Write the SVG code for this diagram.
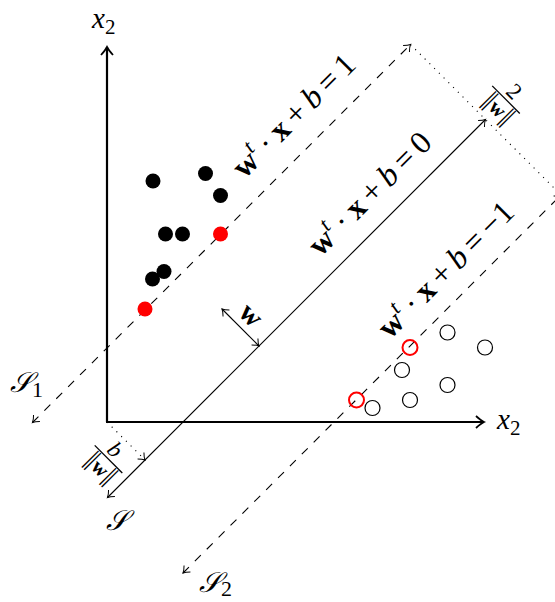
<svg xmlns="http://www.w3.org/2000/svg" width="555" height="602" viewBox="0 0 555 602">
  <style>
    .t { font-family: "Liberation Serif", "DejaVu Serif", serif; fill: #000; }
    .bf { font-weight: bold; }
    .it { font-style: italic; }
    .scr { font-family: "DejaVu Serif", "DejaVu Sans", "Noto Sans", serif; fill: #000; }
    .axis { stroke: #000; stroke-width: 2.2; fill: none; }
    .thin { stroke: #000; stroke-width: 1.1; fill: none; }
    .dash { stroke-dasharray: 8.4 8.4; }
    .dot { stroke-dasharray: 1.1 5.6; }
    .blk { fill: #000; }
    .redf { fill: #ff0000; }
    .open { fill: none; stroke: #000; stroke-width: 1.2; }
    .openr { fill: none; stroke: #ff0000; stroke-width: 2; }
  </style>
  <defs>
    <marker id="tip" markerUnits="userSpaceOnUse" markerWidth="12" markerHeight="12" refX="0" refY="0" orient="auto-start-reverse" overflow="visible">
      <path d="M -6 -4.5 Q -2.5 -1 0 0 Q -2.5 1 -6 4.5" fill="none" stroke="#000" stroke-width="1" stroke-dasharray="none"/>
    </marker>
    <marker id="bigtip" markerUnits="userSpaceOnUse" markerWidth="16" markerHeight="16" refX="0" refY="0" orient="auto" overflow="visible">
      <path d="M -8 -6 Q -3 -1.5 0 0 Q -3 1.5 -8 6" fill="none" stroke="#000" stroke-width="1.8"/>
    </marker>
  </defs>

  <g id="axes">
    <line class="axis" x1="107" y1="422" x2="107" y2="47" marker-end="url(#bigtip)"/>
    <line class="axis" x1="106" y1="422" x2="484" y2="422" marker-end="url(#bigtip)"/>
    <text class="t it" x="92" y="28" font-size="29">x<tspan font-style="normal" font-size="21" dy="6">2</tspan></text>
    <text class="t it" x="497" y="429" font-size="29">x<tspan font-style="normal" font-size="21" dy="6">2</tspan></text>
  </g>

  <g id="connectors">
    <line id="S1" class="thin dash" x1="32.5" y1="422.5" x2="410.5" y2="44.5" marker-start="url(#tip)" marker-end="url(#tip)"/>
    <line id="S" class="thin" x1="107.5" y1="497.5" x2="485.5" y2="119.5" marker-start="url(#tip)" marker-end="url(#tip)"/>
    <line id="S2" class="thin dash" x1="183" y1="573" x2="561" y2="195" marker-start="url(#tip)" marker-end="url(#tip)"/>
    <line id="margin" class="thin dot" x1="410.5" y1="44.5" x2="561" y2="195"/>
    <line id="offset" class="thin dot" x1="107" y1="422" x2="145" y2="460" marker-end="url(#tip)"/>
    <line id="normal" class="thin" x1="259" y1="346" x2="222" y2="309" marker-start="url(#tip)" marker-end="url(#tip)"/>
  </g>

  <g id="labels">
    <text class="t" transform="translate(301,123) rotate(-45)" text-anchor="middle" font-size="32"><tspan class="bf">w</tspan><tspan class="it" font-size="22" dy="-13">t</tspan><tspan dy="13" dx="6">·</tspan><tspan class="bf" dx="6">x</tspan><tspan dx="6">+</tspan><tspan class="it" dx="6">b</tspan><tspan dx="6">=</tspan><tspan dx="6">1</tspan></text>
    <text class="t" transform="translate(377,201) rotate(-45)" text-anchor="middle" font-size="32"><tspan class="bf">w</tspan><tspan class="it" font-size="22" dy="-13">t</tspan><tspan dy="13" dx="6">·</tspan><tspan class="bf" dx="6">x</tspan><tspan dx="6">+</tspan><tspan class="it" dx="6">b</tspan><tspan dx="6">=</tspan><tspan dx="6">0</tspan></text>
    <text class="t" transform="translate(453,277) rotate(-45)" text-anchor="middle" font-size="32"><tspan class="bf">w</tspan><tspan class="it" font-size="22" dy="-13">t</tspan><tspan dy="13" dx="6">·</tspan><tspan class="bf" dx="6">x</tspan><tspan dx="6">+</tspan><tspan class="it" dx="6">b</tspan><tspan dx="6">=</tspan><tspan dx="6">−1</tspan></text>

    <g id="frac-margin" transform="translate(506,99.7) rotate(45)">
      <line x1="-19.5" y1="0" x2="19.5" y2="0" stroke="#000" stroke-width="1.3"/>
      <text class="t" x="0" y="-4" text-anchor="middle" font-size="23">2</text>
      <text class="t" x="0" y="19" text-anchor="middle" font-size="26" letter-spacing="-2">||<tspan class="bf" font-size="21" letter-spacing="0" dx="2">w</tspan><tspan dx="1">||</tspan></text>
    </g>
    <g id="frac-offset" transform="translate(108.5,459.2) rotate(45)">
      <line x1="-19.5" y1="0" x2="19.5" y2="0" stroke="#000" stroke-width="1.3"/>
      <text class="t it" x="-2" y="-4" text-anchor="middle" font-size="23">b</text>
      <text class="t" x="0" y="19" text-anchor="middle" font-size="26" letter-spacing="-2">||<tspan class="bf" font-size="21" letter-spacing="0" dx="2">w</tspan><tspan dx="1">||</tspan></text>
    </g>
    <text class="t bf" transform="translate(249.5,316.5) rotate(45)" text-anchor="middle" dy="7" font-size="29">w</text>

    <text class="scr it" x="10" y="392" font-size="28">𝒮<tspan class="t" font-style="normal" font-size="22" dy="5">1</tspan></text>
    <text class="scr it" x="106" y="530" font-size="28">𝒮</text>
    <text class="scr it" x="199" y="592" font-size="28">𝒮<tspan class="t" font-style="normal" font-size="22" dy="4">2</tspan></text>
  </g>

  <g id="class-positive">
    <circle id="p1" class="blk" cx="153" cy="181" r="7.5"/>
    <circle id="p2" class="blk" cx="205.5" cy="173.5" r="7.5"/>
    <circle id="p3" class="blk" cx="220.5" cy="195.5" r="7.5"/>
    <circle id="p4" class="blk" cx="165.5" cy="234" r="7.5"/>
    <circle id="p5" class="blk" cx="182.5" cy="234" r="7.5"/>
    <circle id="p6" class="redf" cx="220.5" cy="234" r="7.5"/>
    <circle id="p7" class="blk" cx="164" cy="271.5" r="7.5"/>
    <circle id="p8" class="blk" cx="152.5" cy="279" r="7.5"/>
    <circle id="p9" class="redf" cx="145" cy="309" r="7.5"/>
  </g>

  <g id="class-negative">
    <circle id="n1" class="open" cx="447.5" cy="332.5" r="7.5"/>
    <circle id="n2" class="openr" cx="410" cy="347.5" r="7.5"/>
    <circle id="n3" class="open" cx="485" cy="347.5" r="7.5"/>
    <circle id="n4" class="open" cx="402" cy="370" r="7.5"/>
    <circle id="n5" class="open" cx="447.5" cy="385" r="7.5"/>
    <circle id="n6" class="openr" cx="356.5" cy="400" r="7.5"/>
    <circle id="n7" class="open" cx="372.5" cy="408" r="7.5"/>
    <circle id="n8" class="open" cx="410" cy="400" r="7.5"/>
  </g>
</svg>
